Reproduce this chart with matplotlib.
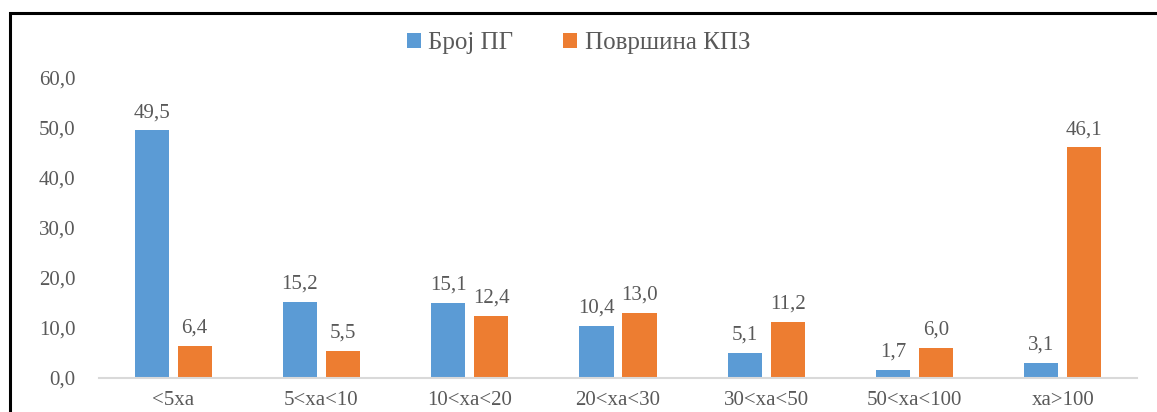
import matplotlib.pyplot as plt
import matplotlib.patches as mpatches
import numpy as np

# Data
categories = ["<5xa", "5<xa<10", "10<xa<20", "20<xa<30", "30<xa<50", "50<xa<100", "xa>100"]
broj_pg = [49.5, 15.2, 15.1, 10.4, 5.1, 1.7, 3.1]
povrsina_kpz = [6.4, 5.5, 12.4, 13.0, 11.2, 6.0, 46.1]
y_ticks = [0, 10, 20, 30, 40, 50, 60]

blue = "#5B9BD5"
orange = "#ED7D31"
text_col = "#595959"

plt.rcParams["font.family"] = ["Liberation Serif", "DejaVu Serif"]

fig = plt.figure(figsize=(11.57, 4.12), dpi=100)
ax = fig.add_axes([0.0856, 0.0825, 0.8971, 0.7282])

x = np.arange(len(categories))
w = 0.23
off = 0.145
b1 = ax.bar(x - off, broj_pg, w, color=blue, label="Број ПГ")
b2 = ax.bar(x + off, povrsina_kpz, w, color=orange, label="Површина КПЗ")

# Value labels with comma decimals
for bars, vals in ((b1, broj_pg), (b2, povrsina_kpz)):
    for rect, v in zip(bars, vals):
        ax.annotate(f"{v:.1f}".replace(".", ","),
                    (rect.get_x() + rect.get_width() / 2, v),
                    xytext=(0, 6), textcoords="offset points",
                    ha="center", va="bottom", fontsize=15, color=text_col)

ax.set_xlim(-0.5, len(categories) - 0.5)
ax.set_ylim(0, 60)
ax.set_yticks(y_ticks)
ax.set_yticklabels([f"{t:.1f}".replace(".", ",") for t in y_ticks])
ax.set_xticks(x)
ax.set_xticklabels(categories)
ax.tick_params(axis="both", length=0, labelsize=15, colors=text_col)
ax.tick_params(axis="y", pad=17)
ax.tick_params(axis="x", pad=9)

for s in ["top", "right", "left"]:
    ax.spines[s].set_visible(False)
ax.spines["bottom"].set_color("#D9D9D9")
ax.spines["bottom"].set_linewidth(1.5)

fig.legend(handles=[b1, b2], loc="center", bbox_to_anchor=(0.5, 0.895),
           ncol=2, frameon=False, fontsize=18, labelcolor=text_col,
           handlelength=0.55, handleheight=0.55, handletextpad=0.3,
           columnspacing=2.0)

# Outer frame (cut off at right and bottom)
frame = mpatches.Rectangle((10 / 1157, -0.1), 1.1, 1 - 13 / 412 + 0.1,
                           transform=fig.transFigure, fill=False,
                           edgecolor="black", linewidth=2.2, clip_on=False)
fig.patches.append(frame)

fig.savefig("out.png", dpi=100)
